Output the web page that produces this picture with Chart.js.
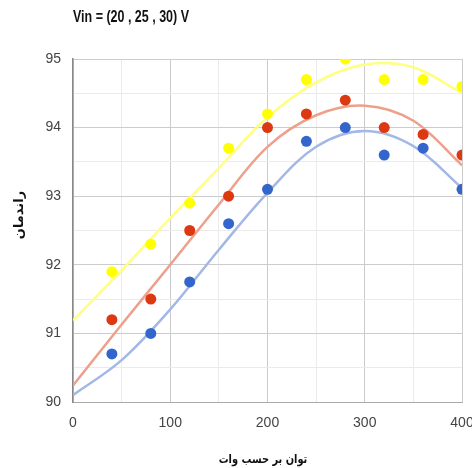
<!DOCTYPE html>
<html>
<head>
<meta charset="utf-8">
<script src="https://cdn.jsdelivr.net/npm/chart.js@4/dist/chart.umd.min.js"></script>
<style>
  html, body { margin: 0; padding: 0; background: #fff; }
  #wrap { width: 472px; height: 468px; }
</style>
</head>
<body>
<div id="wrap"><canvas id="chart" width="472" height="468"></canvas></div>
<script>
// measured points (power in W, efficiency in %)
const powerW = [40, 80, 120, 160, 200, 240, 280, 320, 360, 400];
const eff30 = [91.9, 92.3, 92.9, 93.7, 94.2, 94.7, 95.0, 94.7, 94.7, 94.6];
const eff25 = [91.2, 91.5, 92.5, 93.0, 94.0, 94.2, 94.4, 94.0, 93.9, 93.6];
const eff20 = [90.7, 91.0, 91.75, 92.6, 93.1, 93.8, 94.0, 93.6, 93.7, 93.1];

// trend curves
const trendX = [0, 50, 100, 150, 200, 250, 300, 350, 400];
const trend30 = [91.19, 91.92, 92.68, 93.41, 94.15, 94.66, 94.92, 94.88, 94.5];
const trend25 = [90.24, 91.13, 92.0, 92.88, 93.72, 94.18, 94.32, 94.1, 93.45];
const trend20 = [90.1, 90.61, 91.35, 92.22, 93.05, 93.72, 93.95, 93.73, 93.12];

const titleText = 'Vin = (20 , 25 , 30) V';
const xTitle = 'توان بر حسب وات';
const yTitle = 'راندمان';

const toXY = (xs, ys) => xs.map((x, i) => ({ x, y: ys[i] }));

const pointSet = (data, color) => ({
    type: 'scatter', data, order: 0,
    backgroundColor: color, borderColor: color,
    pointRadius: 5.5, pointHoverRadius: 5.5, borderWidth: 0
});

const trendSet = (data, color) => ({
    type: 'line', data, order: 1,
    borderColor: color, borderWidth: 2.5,
    pointRadius: 0, tension: 0.35, fill: false
});

const tickFont = { family: '"Liberation Sans Narrow", "Liberation Sans", Arial', size: 14 };

// fixed texts: chart title and axis titles (squeezed a bit, the original font is narrow)
const labelsPlugin = {
    id: 'labels',
    afterDraw(chart) {
        const { ctx, chartArea } = chart;
        ctx.save();
        ctx.fillStyle = '#111';
        ctx.textBaseline = 'middle';

        ctx.save();
        ctx.font = 'bold 16px "Liberation Sans", Arial';
        ctx.textAlign = 'left';
        ctx.translate(chartArea.left, 18);
        ctx.scale(0.78, 1);
        ctx.fillText(titleText, 0, 0);
        ctx.restore();

        ctx.font = 'bold 12px "DejaVu Sans", Arial';
        ctx.textAlign = 'center';
        ctx.save();
        ctx.translate(263, 460);
        ctx.scale(0.82, 1);
        ctx.fillText(xTitle, 0, 0);
        ctx.restore();

        ctx.font = 'bold 13px "DejaVu Sans", Arial';
        ctx.translate(20, 215);
        ctx.rotate(-Math.PI / 2);
        ctx.fillText(yTitle, 0, 0);
        ctx.restore();
    }
};

new Chart(document.getElementById('chart'), {
    type: 'scatter',
    data: {
        datasets: [
            pointSet(toXY(powerW, eff20), '#3366cc'),
            pointSet(toXY(powerW, eff25), '#dc3912'),
            pointSet(toXY(powerW, eff30), '#ffff00'),
            trendSet(toXY(trendX, trend20), '#a3b8e6'),
            trendSet(toXY(trendX, trend25), '#eda08c'),
            trendSet(toXY(trendX, trend30), '#ffff80')
        ]
    },
    options: {
        responsive: false,
        animation: false,
        layout: { padding: { top: 59, right: 10, left: 0, bottom: 0 } },
        plugins: { legend: { display: false }, tooltip: { enabled: false } },
        scales: {
            x: {
                min: 0, max: 400,
                afterFit: s => { s.height = 66; s.paddingLeft = 0; s.paddingRight = 0; },
                border: { color: '#aaa', width: 1 },
                grid: {
                    color: c => (c.tick.value % 100 === 0 ? '#cccccc' : '#ebebeb'),
                    drawTicks: false
                },
                ticks: {
                    stepSize: 50, autoSkip: false, padding: 13,
                    color: '#444', font: tickFont, maxRotation: 0,
                    callback: v => (v % 100 === 0 ? v : '')
                }
            },
            y: {
                min: 90, max: 95,
                afterFit: s => { s.width = 73; s.paddingTop = 0; s.paddingBottom = 0; },
                border: { color: '#888', width: 1.5 },
                grid: {
                    color: c => (c.tick.value % 1 === 0 ? '#cccccc' : '#ebebeb'),
                    drawTicks: false
                },
                ticks: {
                    stepSize: 0.5, autoSkip: false, padding: 12,
                    color: '#444', font: tickFont,
                    callback: v => (v % 1 === 0 ? v : '')
                }
            }
        }
    },
    plugins: [labelsPlugin]
});
</script>
</body>
</html>
